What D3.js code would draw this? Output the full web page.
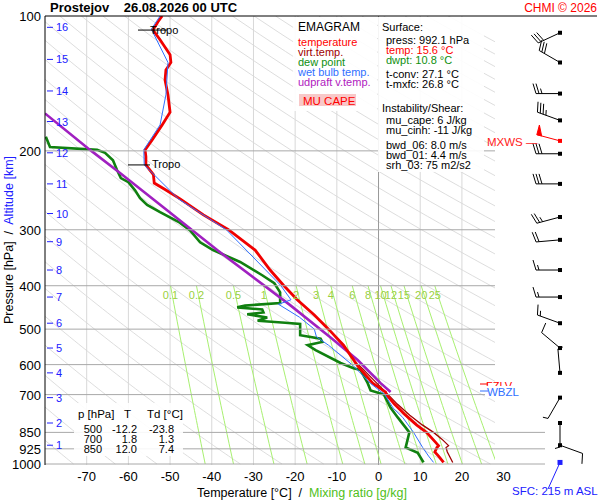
<!DOCTYPE html>
<html><head><meta charset="utf-8">
<script src="https://cdn.jsdelivr.net/npm/d3@7"></script>
<style>body{margin:0;background:#fff}svg{font-family:"Liberation Sans",Arial,sans-serif}</style>
</head><body><svg id="c" width="600" height="500"></svg>
<script>
// profile data (pressure hPa, temperature degC)
const tP = [100,103,107.5,113,122,127,132,139,150,164,175,189,199,206,215,226,236,244,256,278,300,333,369,399,430,465,500,543,604,660,691,700,735,778,818,850,880,910,919,940,960,992];
const tT = [-51.9,-52.9,-54.1,-52.4,-50,-49.8,-51,-51.2,-50.5,-50,-51.9,-54.3,-56,-55.8,-55.8,-54,-53.8,-51.2,-47.6,-42,-36,-29.6,-26,-22.8,-19.5,-15.4,-12,-8.4,-5,-1.4,1.7,1.9,3.8,6.5,9.1,11.5,13,14.4,14,13.5,14.4,15.6];
const tvP = [600,700,735,778,818,850,880,910,919,940,960,992];
const tvT = [-4.8,2.3,4.5,7.5,10.5,13.2,15.2,16.8,16.2,16.5,17,17.8];
const dP = [186,196,199,202,210,221,230,235,245,255,264,274,288,301,320,333,354,379,395,414,437,443,447,452,459,463,471,479,484,487,516,525,534,543,557,595,611,617,660,685,700,749,787,850,919,944,992];
const dT = [-79.8,-78.8,-67.5,-65.6,-63.7,-62.7,-61.8,-60,-58.4,-57.2,-55.5,-52.4,-48,-45.2,-42.8,-39.7,-33.2,-27.9,-25,-23.6,-23.6,-32,-33.9,-27.9,-27.6,-31.5,-26.7,-29,-22.4,-18.8,-18.8,-13.9,-13.5,-17,-15.1,-9.1,-6,-4.3,-2.6,-1.9,1.3,2.9,4.6,7.4,6.5,9.4,10.8];
const wP = [100,107,127,150,175,199,215,256,300,399,430,440,470,500,520,543,604,660,700,750,787,850,919,960,992];
const wT = [-52.4,-54.5,-50.5,-51,-52.4,-56.3,-56.2,-48,-36.5,-23.5,-21,-24,-19,-15.4,-14.9,-12,-6,-2,1.5,3.5,5.8,8.4,10.6,12,13.2];
const uP = [165,199,224,267,333,442,522,586,660,691];
const uT = [-80,-69.2,-62,-51.7,-38.7,-21.2,-11.5,-5,0.5,2.9];
const pTicks = [100,200,300,400,500,600,700,850,925,1000];
const tTicks = [-70,-60,-50,-40,-30,-20,-10,0,10,20,30];
const kmTicks = [1,2,3,4,5,6,7,8,9,10,11,12,13,14,15,16];
const kmP = [908,810,711,626,551,485,424,369,319,276,237,202,172,147,125,106];
const mixR = [0.1,0.2,0.5,1,2,3,4,6,8,10,12,15,20,25];
const windP = [109,127,149,171,190,203,237,281,316,369,424,485,551,626,711,810,908];
const windDir = [245,300,270,290,285,270,270,255,265,270,270,290,310,355,210,180,110];
const windKt = [30,30,25,35,50,30,30,25,20,15,15,15,10,5,5,5,10];
const tabP = ['500','700','850'];
const tabT = ['-12.2','1.8','12.0'];
const tabTd = ['-23.8','1.3','7.4'];

const svg = d3.select('#c');
const y = d3.scaleLog().domain([100,1000]).range([16,464]);
const x = d3.scaleLinear().domain([-80,30]).range([45,503.6]);
const line = d3.line().x(d => x(d[1])).y(d => y(d[0]));
const zip = (a,b) => a.map((v,i) => [v,b[i]]);

const g = svg.append('g');
g.append('clipPath').attr('id','clip').append('rect').attr('x',45).attr('y',16).attr('width',450).attr('height',449);
const grid = g.append('g').attr('clip-path','url(#clip)');

// dry adiabats every 10 K
for (let th = 180; th <= 560; th += 10) {
  const pts = d3.range(100,1001,10).map(p => [p, th*Math.pow(p/1000,0.286)-273.15]);
  grid.append('path').attr('d',line(pts)).attr('fill','none').attr('stroke','#d4d4d4').attr('stroke-width',0.8);
}
// isotherms
tTicks.forEach(t => grid.append('line').attr('x1',x(t)).attr('x2',x(t)).attr('y1',16).attr('y2',465)
  .attr('stroke', t===0 ? '#999' : '#d8d8d8').attr('stroke-width',1));
// isobars
pTicks.slice(1).forEach(p => g.append('line').attr('x1',45).attr('x2', p>=850 ? 545 : 495).attr('y1',y(p)).attr('y2',y(p))
  .attr('stroke','#a8a8a8').attr('stroke-width',1));
// mixing ratio lines
const tdOf = (w,p) => { const e = w*p/(622+w); const l = Math.log(e/6.112); return 243.5*l/(17.67-l); };
mixR.forEach(w => {
  const pts = d3.range(400,1001,20).map(p => [p, tdOf(w,p)]);
  grid.append('path').attr('d',line(pts)).attr('fill','none').attr('stroke','#a8f070').attr('stroke-width',1);
  g.append('text').attr('x',x(tdOf(w,400))).attr('y',299).attr('text-anchor','middle')
    .attr('font-size',11).attr('fill','#9ad040').text(w);
});

// axes
g.append('line').attr('x1',45).attr('x2',45).attr('y1',16).attr('y2',465).attr('stroke','#000');
g.append('line').attr('x1',45).attr('x2',597).attr('y1',16).attr('y2',16).attr('stroke','#000');
pTicks.forEach(p => g.append('text').attr('x',41).attr('y',y(p)+5).attr('text-anchor','end').attr('font-size',13).text(p));
tTicks.forEach(t => g.append('text').attr('x',x(t)).attr('y',481).attr('text-anchor','middle').attr('font-size',13).text(t));
kmTicks.forEach((k,i) => {
  g.append('line').attr('x1',47).attr('x2',53).attr('y1',y(kmP[i])).attr('y2',y(kmP[i])).attr('stroke','#2020ff');
  g.append('text').attr('x',56).attr('y',y(kmP[i])+4).attr('font-size',11).attr('fill','#2020ff').text(k);
});

// level table
g.append('rect').attr('x',74).attr('y',403).attr('width',109).attr('height',53).attr('fill','#fff').attr('opacity',0.9);
g.append('text').attr('x',78).attr('y',418).attr('font-size',11.5).text('p [hPa]');
g.append('text').attr('x',124).attr('y',418).attr('font-size',11.5).text('T');
g.append('text').attr('x',147).attr('y',418).attr('font-size',11.5).text('Td [°C]');
tabP.forEach((p,i) => {
  const yy = 433 + i*10;
  g.append('text').attr('x',102).attr('y',yy).attr('text-anchor','end').attr('font-size',11).text(p);
  g.append('text').attr('x',137).attr('y',yy).attr('text-anchor','end').attr('font-size',11).text(tabT[i]);
  g.append('text').attr('x',174).attr('y',yy).attr('text-anchor','end').attr('font-size',11).text(tabTd[i]);
});

// profiles
const prof = grid.append('g');
prof.append('path').attr('d',line(zip(dP,dT))).attr('fill','none').attr('stroke','#108010').attr('stroke-width',2.6);
prof.append('path').attr('d',line(zip(uP,uT))).attr('fill','none').attr('stroke','#a020c0').attr('stroke-width',2.6);
prof.append('path').attr('d',line(zip(tvP,tvT))).attr('fill','none').attr('stroke','#a00000').attr('stroke-width',1.3);
prof.append('path').attr('d',line(zip(tP,tT))).attr('fill','none').attr('stroke','#f00000').attr('stroke-width',2.8);
prof.append('path').attr('d',line(zip(wP,wT))).attr('fill','none').attr('stroke','#3070ff').attr('stroke-width',1);

// tropopause marks
[[107.5,138,167,'Tropo',150,34],[215,128,150,'Tropo',152,168]].forEach(d => {
  g.append('line').attr('x1',d[1]).attr('x2',d[2]).attr('y1',y(d[0])).attr('y2',y(d[0])).attr('stroke','#000');
  g.append('text').attr('x',d[4]).attr('y',d[5]).attr('font-size',11).text(d[3]);
});

// legend boxes
g.append('rect').attr('x',293).attr('y',17).attr('width',84).attr('height',94).attr('fill','#fff').attr('opacity',0.9);
g.append('rect').attr('x',378).attr('y',17).attr('width',106).attr('height',155).attr('fill','#fff').attr('opacity',0.9);
g.append('text').attr('x',298).attr('y',31).attr('font-size',12).text('EMAGRAM');
[['temperature','#ff0000'],['virt.temp.','#a00000'],['dew point','#109010'],['wet bulb temp.','#3070ff'],['udpraft v.temp.','#b020c0']]
  .forEach((d,i) => g.append('text').attr('x',298).attr('y',46+i*10).attr('font-size',11).attr('fill',d[1]).text(d[0]));
g.append('rect').attr('x',299).attr('y',94).attr('width',57).attr('height',12).attr('fill','#f8c8c8');
g.append('text').attr('x',303).attr('y',105).attr('font-size',11.5).attr('fill','#ff0000').text('MU CAPE');
const stats = [['Surface:',382,31,'#000'],['press: 992.1 hPa',386,44,'#000'],['temp: 15.6 °C',386,54,'#ff0000'],['dwpt: 10.8 °C',386,64,'#109010'],
  ['t-conv: 27.1 °C',386,78,'#000'],['t-mxfc: 26.8 °C',386,88,'#000'],['Instability/Shear:',382,112,'#000'],['mu_cape: 6 J/kg',386,124,'#000'],
  ['mu_cinh: -11 J/kg',386,134,'#000'],['bwd_06: 8.0 m/s',386,149,'#000'],['bwd_01: 4.4 m/s',386,159,'#000'],['srh_03: 75 m2/s2',386,169,'#000']];
stats.forEach(s => g.append('text').attr('x',s[1]).attr('y',s[2]).attr('font-size',11).attr('fill',s[3]).text(s[0]));

// freezing level labels
g.append('text').attr('x',486).attr('y',390).attr('font-size',11).attr('fill','#ff0000').text('FZLV');
g.append('rect').attr('x',485).attr('y',386).attr('width',40).attr('height',12).attr('fill','#fff');
g.append('line').attr('x1',480).attr('x2',488).attr('y1',384).attr('y2',384).attr('stroke','#ff0000');
g.append('line').attr('x1',480).attr('x2',488).attr('y1',391).attr('y2',391).attr('stroke','#3070ff');
g.append('text').attr('x',487).attr('y',396).attr('font-size',11.5).attr('fill','#3070ff').text('WBZL');
g.append('text').attr('x',487).attr('y',146).attr('font-size',11.5).attr('fill','#ff2020').text('MXWS —');

// wind barbs
const bx = 560;
windP.forEach((p,i) => {
  const col = windKt[i] >= 50 ? '#ff0000' : '#000';
  const yy = y(p), a = windDir[i]*Math.PI/180, L = 24;
  const ux = Math.sin(a), uy = -Math.cos(a);
  const ex = bx + ux*L, ey = yy + uy*L;
  const bg = g.append('g').attr('stroke',col).attr('fill',col);
  bg.append('line').attr('x1',bx).attr('y1',yy).attr('x2',ex).attr('y2',ey);
  bg.append('rect').attr('x',bx-2).attr('y',yy-2).attr('width',4).attr('height',4).attr('stroke','none');
  const px = -uy, py = ux; // perpendicular
  let s = windKt[i], pos = 0;
  if (s >= 50) {
    bg.append('path').attr('d',`M${ex},${ey}L${ex+px*10},${ey+py*10}L${ex-ux*5},${ey-uy*5}Z`);
    s -= 50; pos = 7;
  }
  while (s >= 10) {
    const sx = ex - ux*pos, sy = ey - uy*pos;
    bg.append('line').attr('x1',sx).attr('y1',sy).attr('x2',sx+px*10+ux*3).attr('y2',sy+py*10+uy*3);
    s -= 10; pos += 3;
  }
  if (s >= 5) {
    const sx = ex - ux*pos, sy = ey - uy*pos;
    bg.append('line').attr('x1',sx).attr('y1',sy).attr('x2',sx+px*5+ux*1.5).attr('y2',sy+py*5+uy*1.5);
  }
});
g.append('line').attr('x1',bx).attr('y1',y(992)).attr('x2',548).attr('y2',489).attr('stroke','#2020ff');
g.append('rect').attr('x',bx-2.5).attr('y',y(992)-2.5).attr('width',5).attr('height',5).attr('fill','#2020ff');
g.append('text').attr('x',512).attr('y',495).attr('font-size',11.5).attr('fill','#2020ff').text('SFC: 215 m ASL');

// titles
svg.append('text').attr('x',50).attr('y',12).attr('font-size',13).attr('font-weight','bold').text('Prostejov    26.08.2026 00 UTC').style('white-space','pre');
svg.append('text').attr('x',597).attr('y',12).attr('text-anchor','end').attr('font-size',12).attr('fill','#ff0000').text('CHMI © 2026');
const xl = svg.append('text').attr('x',197).attr('y',497).attr('font-size',12.5);
xl.append('tspan').text('Temperature [°C]  /  ').style('white-space','pre');
xl.append('tspan').attr('fill','#50c020').text('Mixing ratio [g/kg]');
const yl = svg.append('text').attr('transform','translate(13,240) rotate(-90)').attr('text-anchor','middle').attr('font-size',12.5);
yl.append('tspan').text('Pressure [hPa]  /  ').style('white-space','pre');
yl.append('tspan').attr('fill','#2020ff').text('Altitude [km]');
</script></body></html>
